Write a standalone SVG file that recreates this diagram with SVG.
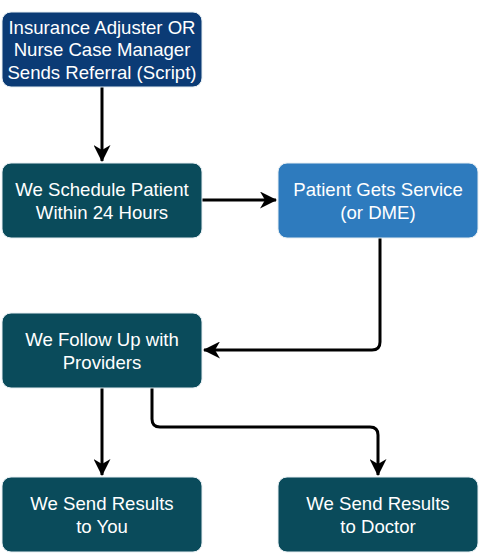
<svg xmlns="http://www.w3.org/2000/svg" width="480" height="553" viewBox="0 0 480 553">
<style>
.box{stroke:#e6eef2;stroke-width:1}
.navy{fill:#0b3b75}
.teal{fill:#0a4b5b}
.blue{fill:#2e7bbe}
text{font-family:"Liberation Sans",Arial,sans-serif;font-size:18.6px;fill:#ffffff;text-anchor:middle}
.conn{fill:none;stroke:#000000;stroke-width:3;stroke-linejoin:round}
</style>
<defs>
<marker id="arr" viewBox="0 0 17 17" refX="16" refY="8.5" markerWidth="17" markerHeight="17" markerUnits="userSpaceOnUse" orient="auto">
<path d="M0,0 L17,8.5 L0,17 L5,8.5 Z" fill="#000000"/>
</marker>
</defs>
<rect width="480" height="553" fill="#ffffff"/>
<g id="connectors">
<path class="conn" d="M102,87 L102,161" marker-end="url(#arr)"/>
<path class="conn" d="M202,200 L276,200" marker-end="url(#arr)"/>
<path class="conn" d="M380,238 L380,342 Q380,350 372,350 L204,350" marker-end="url(#arr)"/>
<path class="conn" d="M102,388 L102,475" marker-end="url(#arr)"/>
<path class="conn" d="M152,388 L152,419 Q152,427 160,427 L370,427 Q378,427 378,435 L378,475" marker-end="url(#arr)"/>
</g>
<g id="n1">
<rect class="box navy" x="2" y="12" width="200" height="75" rx="9"/>
<text x="102" y="33.5">Insurance Adjuster OR</text>
<text x="102" y="56">Nurse Case Manager</text>
<text x="102" y="78.5">Sends Referral (Script)</text>
</g>
<g id="n2">
<rect class="box teal" x="2" y="163" width="200" height="75" rx="9"/>
<text x="102" y="196">We Schedule Patient</text>
<text x="102" y="218.5">Within 24 Hours</text>
</g>
<g id="n3">
<rect class="box blue" x="278" y="163" width="200" height="75" rx="9"/>
<text x="378" y="196">Patient Gets Service</text>
<text x="378" y="218.5">(or DME)</text>
</g>
<g id="n4">
<rect class="box teal" x="2" y="313" width="200" height="75" rx="9"/>
<text x="102" y="346">We Follow Up with</text>
<text x="102" y="368.5">Providers</text>
</g>
<g id="n5">
<rect class="box teal" x="2" y="477" width="200" height="75" rx="9"/>
<text x="102" y="510">We Send Results</text>
<text x="102" y="532.5">to You</text>
</g>
<g id="n6">
<rect class="box teal" x="278" y="477" width="200" height="75" rx="9"/>
<text x="378" y="510">We Send Results</text>
<text x="378" y="532.5">to Doctor</text>
</g>
</svg>
